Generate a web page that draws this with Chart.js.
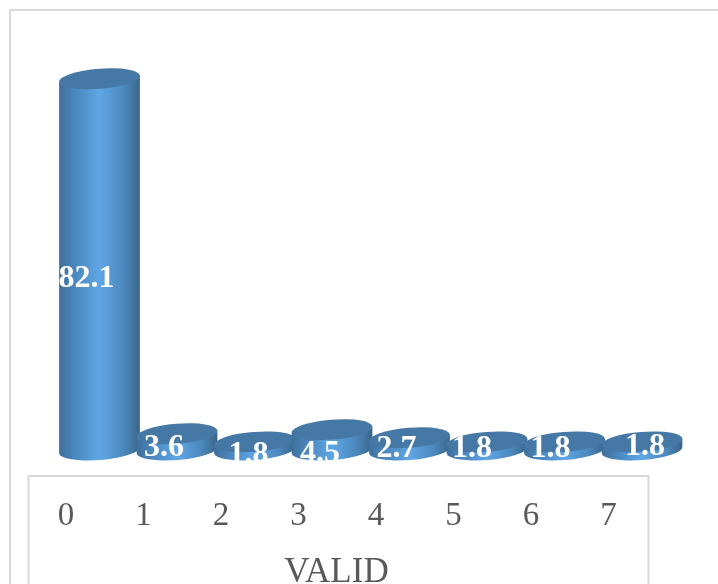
<!DOCTYPE html>
<html>
<head>
<meta charset="utf-8">
<title>VALID</title>
<script src="https://cdn.jsdelivr.net/npm/chart.js@4"></script>
<style>
html, body { margin: 0; padding: 0; background: #fff; overflow: hidden; }
canvas { display: block; }
</style>
</head>
<body>
<canvas id="chart" width="718" height="584"></canvas>
<script>
const categories = ['0', '1', '2', '3', '4', '5', '6', '7'];
const values = [82.1, 3.6, 1.8, 4.5, 2.7, 1.8, 1.8, 1.8];
const axisTitle = 'VALID';

// label nudges from the middle of each cylinder, in pixels
const labelShiftX = [-13, -13, -6, -12, -13, -15, -14, 3];
const labelY = [279, 448, 455, 454, 449, 449, 449, 447];

const SERIF = '"Liberation Serif", "Times New Roman", serif';
const RX = 40.5, RY = 10, TILT = -4.5 * Math.PI / 180;

const ellipse = (ctx, x, y) => {
    ctx.beginPath();
    ctx.ellipse(x, y, RX, RY, TILT, 0, Math.PI * 2);
    ctx.closePath();
};

const drawCylinder = (ctx, x, top, base) => {
    const g = ctx.createLinearGradient(x - RX, 0, x + RX, 0);
    g.addColorStop(0, '#3f6f9b');
    g.addColorStop(0.2, '#4b87be');
    g.addColorStop(0.5, '#5fa6e6');
    g.addColorStop(0.8, '#4c88bd');
    g.addColorStop(1, '#3a6488');

    // side wall: top rim edge down to the lower half of the base ellipse
    const dx = RX * Math.cos(TILT), dy = RX * Math.sin(TILT);
    ctx.beginPath();
    ctx.moveTo(x - dx, top - dy);
    ctx.lineTo(x - dx, base - dy);
    ctx.ellipse(x, base, RX, RY, TILT, Math.PI, 0, true);
    ctx.lineTo(x + dx, top + dy);
    ctx.closePath();
    ctx.fillStyle = g;
    ctx.fill();

    ellipse(ctx, x, top);
    ctx.fillStyle = '#4678a6';
    ctx.fill();
};

const cylinderPlugin = {
    id: 'cylinders',
    beforeDraw(chart) {
        const { ctx } = chart;
        ctx.save();
        ctx.strokeStyle = '#d9d9d9';
        ctx.lineWidth = 2;
        ctx.strokeRect(10, 10, 720, 600);
        ctx.strokeRect(28.5, 476, 620, 140);
        ctx.restore();
    },
    afterDatasetsDraw(chart) {
        const { ctx } = chart;
        const bars = chart.getDatasetMeta(0).data;
        bars.forEach(bar => drawCylinder(ctx, bar.x, bar.y, bar.base));

        ctx.save();
        ctx.beginPath();
        ctx.rect(0, 0, chart.width, 461);
        ctx.clip();
        ctx.fillStyle = '#fff';
        ctx.font = 'bold 32px ' + SERIF;
        ctx.textAlign = 'center';
        ctx.textBaseline = 'middle';
        bars.forEach((bar, i) => {
            ctx.fillText(values[i].toFixed(1), bar.x + labelShiftX[i], labelY[i]);
        });
        ctx.restore();

        // axis name sits in the middle of the box under the bars
        ctx.save();
        ctx.fillStyle = '#595959';
        ctx.font = '35px ' + SERIF;
        ctx.textAlign = 'center';
        ctx.textBaseline = 'alphabetic';
        ctx.fillText(axisTitle, 336.5, 582);
        ctx.restore();
    }
};

new Chart(document.getElementById('chart'), {
    type: 'bar',
    data: {
        labels: categories,
        datasets: [{
            data: values,
            backgroundColor: 'rgba(0,0,0,0)',
            barThickness: 81
        }]
    },
    plugins: [cylinderPlugin],
    options: {
        responsive: false,
        animation: false,
        layout: { padding: { left: 60.75, right: 37.25, top: 43, bottom: 0 } },
        plugins: { legend: { display: false }, tooltip: { enabled: false } },
        scales: {
            x: {
                grid: { display: false },
                border: { display: false },
                ticks: {
                    color: '#595959',
                    font: { family: SERIF, size: 33 },
                    labelOffset: -33.5,
                    padding: 39,
                    maxRotation: 0
                },
                afterFit: scale => { scale.height = 134; }
            },
            y: {
                display: false,
                min: 0,
                max: 90
            }
        }
    }
});
</script>
</body>
</html>
